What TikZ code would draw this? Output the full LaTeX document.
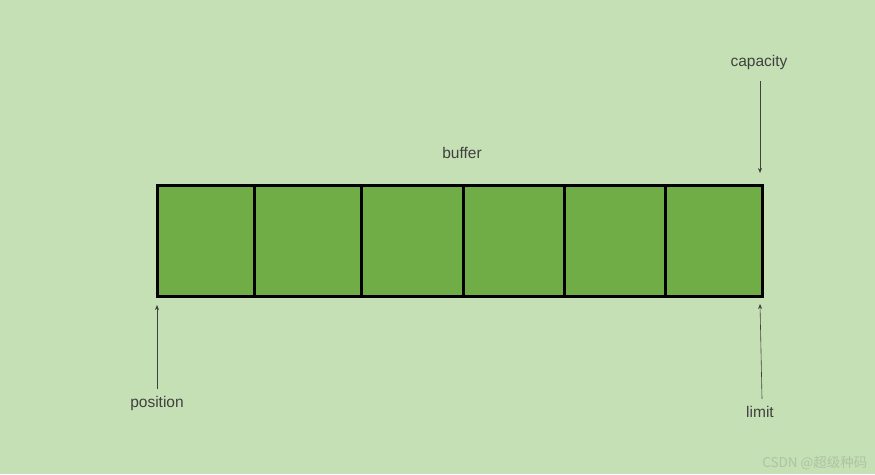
\documentclass[tikz,border=0pt]{standalone}
\usepackage{fontspec}
\setmainfont{Liberation Sans}
\newfontfamily\cjk{Noto Sans CJK SC}
\usetikzlibrary{arrows.meta, positioning}
\definecolor{paper}{HTML}{C5E0B4}
\definecolor{slot}{HTML}{70AD47}
\definecolor{labeltext}{HTML}{404040}
\definecolor{mark}{HTML}{AFC2A6}

\begin{document}
\begin{tikzpicture}[x=1pt, y=-1pt, node distance=0pt,
  every node/.style={font=\fontsize{15.5}{18}\selectfont, text=labeltext},
  cell/.style={draw=black, fill=slot, line width=3pt, minimum height=111pt, inner sep=0pt, outer sep=0pt, anchor=west},
  pointer/.style={-{Stealth[length=5pt, width=4pt]}, labeltext, line width=0.6pt}]
  \fill[paper] (0,0) rectangle (875,474);
  \useasboundingbox (0,0) rectangle (875,474);
  % buffer slots
  \node[cell, minimum width=97pt] (c1) at (157,240.5) {};
  \node[cell, minimum width=107pt, right=of c1] (c2) {};
  \node[cell, minimum width=102pt, right=of c2] (c3) {};
  \node[cell, minimum width=101pt, right=of c3] (c4) {};
  \node[cell, minimum width=101pt, right=of c4] (c5) {};
  \node[cell, minimum width=97pt, right=of c5] (c6) {};
  % labels
  \node (buf) at (462,153) {buffer};
  \node (cap) at (759,62) {capacity};
  \node (pos) at (157,403) {position};
  \node (lim) at (760,412) {limit};
  \node[font=\cjk\fontsize{13.5}{15}\selectfont, text=mark, anchor=east] (wm) at (871,463) {CSDN @超级种码};
  % pointers
  \coordinate (captip) at (760,173);
  \coordinate (postip) at (157,305);
  \coordinate (limtip) at (760,304);
  \draw[pointer, shorten <=8pt] (cap.south -| captip) -- (captip);
  \draw[pointer] (pos.north) ++(0,-3) -- (postip);
  \draw[pointer] (lim.north) ++(2,-4) -- (limtip);
\end{tikzpicture}
\end{document}
